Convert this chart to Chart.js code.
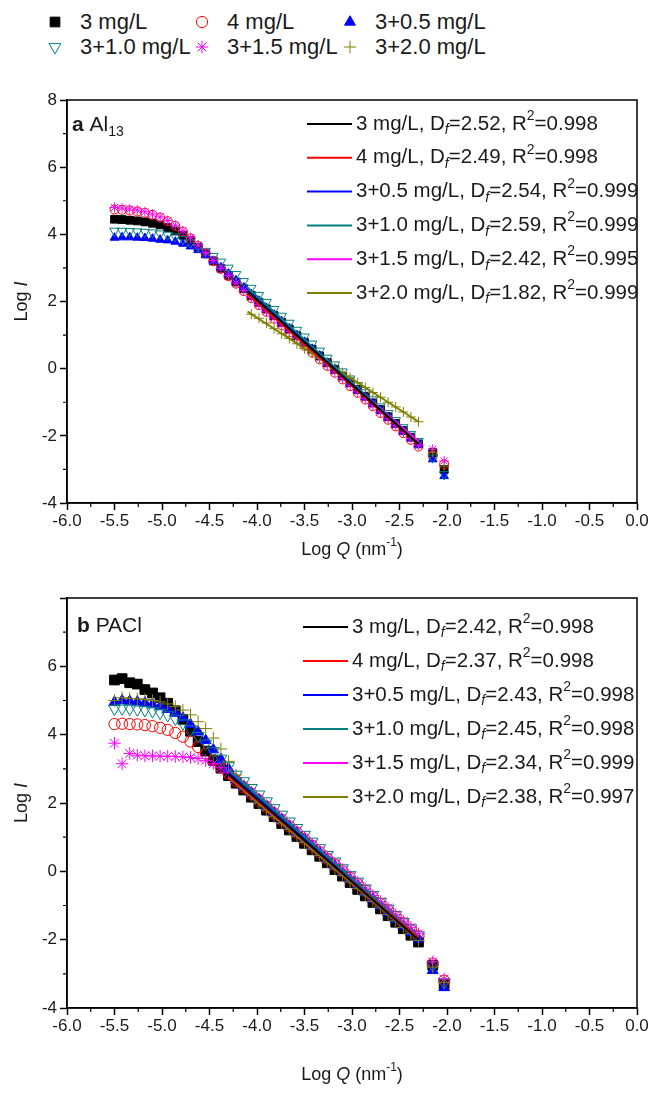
<!DOCTYPE html>
<html>
<head>
<meta charset="utf-8">
<script src="https://cdn.jsdelivr.net/npm/chart.js@4.4.0/dist/chart.umd.min.js"></script>
<style>
  html, body { margin: 0; padding: 0; background: #fff; }
  body { width: 652px; height: 1093px; position: relative; overflow: hidden;
         font-family: "Liberation Sans", Arial, sans-serif; color: #1a1a1a; }
  .leg { position: absolute; font-size: 22px; white-space: nowrap; line-height: 24px; }
  .mk { position: absolute; }
  #chartA { position: absolute; left: 0; top: 70px; }
  #chartB { position: absolute; left: 0; top: 580px; }
</style>
</head>
<body>
<div id="legend"></div>
<canvas id="chartA" width="652" height="510"></canvas>
<canvas id="chartB" width="652" height="513"></canvas>
<script>
// series (same for both panels)
const seriesNames = ['3 mg/L', '4 mg/L', '3+0.5 mg/L', '3+1.0 mg/L', '3+1.5 mg/L', '3+2.0 mg/L'];
const seriesColors = ['#000000', '#ff0000', '#0000ff', '#008080', '#ff00ff', '#808000'];

// Log Q values of the measured points
const logQ = [-5.50, -5.42, -5.34, -5.26, -5.18, -5.10, -5.02, -4.94, -4.86, -4.78, -4.70,
  -4.62, -4.54, -4.46, -4.38, -4.30, -4.22, -4.14, -4.06, -3.98, -3.90, -3.82, -3.74,
  -3.66, -3.58, -3.50, -3.42, -3.34, -3.26, -3.18, -3.10, -3.02, -2.94, -2.86, -2.78,
  -2.70, -2.62, -2.54, -2.46, -2.38, -2.30, -2.15, -2.03];

// panel a - Al13, Log I
const al13_3 = [4.45, 4.44, 4.42, 4.40, 4.37, 4.33, 4.28, 4.20, 4.10, 3.97, 3.81, 3.62, 3.42, 3.21, 2.99, 2.78, 2.58, 2.38, 2.18, 1.98, 1.78, 1.58, 1.38, 1.18, 0.98, 0.78, 0.58, 0.38, 0.18, -0.02, -0.22, -0.42, -0.62, -0.82, -1.02, -1.22, -1.43, -1.63, -1.84, -2.04, -2.24, -2.50, -3.00];
const al13_4 = [4.74, 4.73, 4.71, 4.68, 4.64, 4.58, 4.50, 4.39, 4.25, 4.08, 3.88, 3.66, 3.43, 3.20, 2.97, 2.75, 2.53, 2.31, 2.10, 1.89, 1.69, 1.49, 1.29, 1.08, 0.88, 0.68, 0.48, 0.28, 0.08, -0.12, -0.32, -0.52, -0.72, -0.92, -1.12, -1.32, -1.52, -1.72, -1.92, -2.12, -2.32, -2.60, -2.85];
const al13_05 = [3.90, 3.91, 3.91, 3.90, 3.89, 3.87, 3.84, 3.82, 3.78, 3.72, 3.64, 3.53, 3.38, 3.20, 3.02, 2.83, 2.63, 2.42, 2.22, 2.02, 1.81, 1.61, 1.41, 1.20, 1.00, 0.80, 0.59, 0.39, 0.18, -0.02, -0.22, -0.43, -0.63, -0.84, -1.04, -1.24, -1.44, -1.65, -1.86, -2.06, -2.26, -2.70, -3.20];
const al13_10 = [4.10, 4.10, 4.09, 4.08, 4.07, 4.05, 4.02, 3.98, 3.93, 3.85, 3.75, 3.63, 3.50, 3.35, 3.18, 3.00, 2.81, 2.60, 2.40, 2.19, 1.98, 1.77, 1.57, 1.36, 1.15, 0.95, 0.74, 0.53, 0.32, 0.12, -0.09, -0.30, -0.50, -0.71, -0.92, -1.13, -1.33, -1.54, -1.75, -1.95, -2.16, -2.65, -3.15];
const al13_15 = [4.80, 4.78, 4.75, 4.72, 4.67, 4.60, 4.52, 4.41, 4.27, 4.10, 3.90, 3.68, 3.45, 3.22, 2.99, 2.77, 2.55, 2.33, 2.12, 1.91, 1.71, 1.51, 1.31, 1.11, 0.91, 0.71, 0.51, 0.31, 0.11, -0.09, -0.29, -0.49, -0.69, -0.89, -1.09, -1.29, -1.49, -1.69, -1.89, -2.08, -2.27, -2.40, -2.75];
const al13_20 = [null, null, null, null, null, null, null, null, null, null, null, null, null, null, null, null, null, null, 1.62, 1.50, 1.36, 1.19, 1.04, 0.90, 0.74, 0.60, 0.46, 0.31, 0.17, 0.02, -0.12, -0.27, -0.42, -0.56, -0.71, -0.85, -1.00, -1.14, -1.29, -1.44, -1.58, -2.50, -2.90];
const al13FitX = [-4.1, -2.3];
const al13FitY = [[2.30, -2.24], [2.22, -2.26], [2.32, -2.25], [2.42, -2.24], [2.20, -2.16], [1.70, -1.58]];
const al13Df = [2.52, 2.49, 2.54, 2.59, 2.42, 1.82];
const al13R2 = [0.998, 0.998, 0.999, 0.999, 0.995, 0.999];

// panel b - PACl, Log I
const pacl_3 = [5.60, 5.64, 5.52, 5.48, 5.32, 5.22, 5.08, 4.92, 4.70, 4.45, 4.10, 3.80, 3.52, 3.25, 3.02, 2.80, 2.58, 2.38, 2.17, 1.98, 1.79, 1.60, 1.40, 1.21, 1.02, 0.82, 0.63, 0.44, 0.25, 0.05, -0.14, -0.33, -0.53, -0.72, -0.91, -1.10, -1.30, -1.49, -1.68, -1.87, -2.07, -2.75, -3.30];
const pacl_4 = [4.31, 4.32, 4.31, 4.30, 4.28, 4.25, 4.20, 4.14, 4.05, 3.94, 3.80, 3.64, 3.45, 3.25, 3.05, 2.86, 2.65, 2.46, 2.27, 2.08, 1.89, 1.70, 1.51, 1.32, 1.13, 0.94, 0.75, 0.56, 0.37, 0.19, 0.00, -0.19, -0.38, -0.57, -0.76, -0.95, -1.14, -1.33, -1.52, -1.71, -1.90, -2.70, -3.20];
const pacl_05 = [4.95, 5.00, 4.98, 4.96, 4.93, 4.88, 4.82, 4.74, 4.63, 4.49, 4.30, 4.08, 3.83, 3.56, 3.28, 3.00, 2.69, 2.49, 2.30, 2.10, 1.91, 1.71, 1.52, 1.32, 1.13, 0.94, 0.74, 0.55, 0.35, 0.16, -0.04, -0.23, -0.42, -0.62, -0.81, -1.01, -1.20, -1.40, -1.59, -1.79, -1.98, -2.90, -3.40];
const pacl_10 = [4.76, 4.77, 4.76, 4.74, 4.72, 4.69, 4.64, 4.57, 4.47, 4.33, 4.16, 3.96, 3.74, 3.52, 3.30, 3.08, 2.83, 2.64, 2.44, 2.25, 2.05, 1.85, 1.66, 1.46, 1.27, 1.07, 0.87, 0.68, 0.48, 0.29, 0.09, -0.11, -0.30, -0.50, -0.69, -0.89, -1.09, -1.28, -1.48, -1.67, -1.87, -2.75, -3.25];
const pacl_15 = [3.75, 3.15, 3.45, 3.40, 3.38, 3.38, 3.37, 3.37, 3.36, 3.35, 3.33, 3.30, 3.24, 3.15, 3.03, 2.88, 2.70, 2.50, 2.30, 2.10, 1.91, 1.73, 1.54, 1.35, 1.17, 0.98, 0.79, 0.60, 0.42, 0.23, 0.04, -0.15, -0.33, -0.52, -0.71, -0.89, -1.08, -1.27, -1.46, -1.64, -1.83, -2.65, -3.15];
const pacl_20 = [5.00, 5.08, 5.06, 5.05, 5.03, 5.00, 4.96, 4.90, 4.82, 4.72, 4.58, 4.38, 4.18, 3.90, 3.58, 3.22, 2.82, 2.50, 2.24, 2.00, 1.79, 1.60, 1.41, 1.22, 1.03, 0.84, 0.65, 0.46, 0.27, 0.07, -0.12, -0.31, -0.50, -0.69, -0.88, -1.07, -1.26, -1.45, -1.64, -1.83, -2.02, -2.80, -3.25];
const paclFitX = [-4.3, -2.3];
const paclFitY = [[2.84, -2.00], [2.79, -1.95], [2.88, -1.98], [2.97, -1.93], [2.78, -1.90], [2.74, -2.02]];
const paclDf = [2.42, 2.37, 2.43, 2.45, 2.34, 2.38];
const paclR2 = [0.998, 0.998, 0.998, 0.998, 0.999, 0.997];

// axis ticks
const xTicks = { min: -6, max: 0, step: 0.5 };
const yTicks = { min: -4, max: 8, step: 2 };

// marker looks
const markers = [
  { style: 'rect', rot: 0, fill: true, r: 5.5 },
  { style: 'circle', rot: 0, fill: false, r: 4.5 },
  { style: 'triangle', rot: 0, fill: true, r: 5 },
  { style: 'triangle', rot: 180, fill: false, r: 5.5 },
  { style: 'star', rot: 0, fill: false, r: 5 },
  { style: 'cross', rot: 0, fill: false, r: 5 }
];
const FONT = '"Liberation Sans", Arial, sans-serif';
const TEXT = '#1a1a1a';

// top legend (html)
const legendSpots = [[55, 22], [202, 22], [350, 22], [55, 47], [202, 47], [350, 47]];
const legendBox = document.getElementById('legend');
seriesNames.forEach((name, i) => {
  const [mx, my] = legendSpots[i];
  const c = document.createElement('canvas');
  c.width = 20; c.height = 20; c.className = 'mk';
  c.style.left = (mx - 10) + 'px'; c.style.top = (my - 10) + 'px';
  legendBox.appendChild(c);
  const g = c.getContext('2d'), m = markers[i];
  g.strokeStyle = seriesColors[i];
  g.fillStyle = m.fill ? seriesColors[i] : 'rgba(0,0,0,0)';
  g.lineWidth = 1;
  Chart.helpers.drawPoint(g, { pointStyle: m.style, rotation: m.rot, radius: m.r * 1.25, borderWidth: 1 }, 10, 10);
  const t = document.createElement('div');
  t.className = 'leg';
  t.textContent = name;
  t.style.left = (mx + 25) + 'px'; t.style.top = (my - 12) + 'px';
  legendBox.appendChild(t);
});

// text helpers (sub/superscripts)
function setFont(ctx, kind, size) {
  let fs = size, style = '';
  if (kind === 'sub' || kind === 'isub' || kind === 'sup') fs = Math.round(size * 0.68);
  if (kind === 'i' || kind === 'isub') style = 'italic ';
  if (kind === 'b') style = 'bold ';
  ctx.font = style + fs + 'px ' + FONT;
}
function shiftFor(kind, size) {
  if (kind === 'sub' || kind === 'isub') return size * 0.32;
  if (kind === 'sup') return -size * 0.38;
  return 0;
}
function measureRich(ctx, parts, size) {
  let w = 0;
  parts.forEach(([t, k]) => { setFont(ctx, k, size); w += ctx.measureText(t).width; });
  return w;
}
function drawRich(ctx, parts, x, y, size) {
  let cx = x;
  parts.forEach(([t, k]) => {
    setFont(ctx, k, size);
    ctx.fillText(t, cx, y + shiftFor(k, size));
    cx += ctx.measureText(t).width;
  });
}

const framePlugin = {
  id: 'frame',
  afterDraw(chart) {
    const { ctx, chartArea: a } = chart;
    const x = chart.scales.x, y = chart.scales.y;
    ctx.save();
    ctx.strokeStyle = '#000';
    ctx.lineWidth = 1.5;
    ctx.strokeRect(a.left, a.top, a.right - a.left, a.bottom - a.top);
    // minor ticks
    ctx.lineWidth = 1.2;
    ctx.beginPath();
    for (let v = xTicks.min + xTicks.step / 2; v < xTicks.max; v += xTicks.step) {
      const px = x.getPixelForValue(v);
      ctx.moveTo(px, a.bottom); ctx.lineTo(px, a.bottom + 4);
    }
    for (let v = yTicks.min + yTicks.step / 2; v < yTicks.max; v += yTicks.step) {
      const py = y.getPixelForValue(v);
      ctx.moveTo(a.left, py); ctx.lineTo(a.left - 4, py);
    }
    ctx.stroke();
    ctx.restore();
  }
};

function textPlugin(cfg) {
  return {
    id: 'panelText',
    afterDraw(chart) {
      const ctx = chart.ctx, a = chart.chartArea;
      ctx.save();
      ctx.fillStyle = TEXT;
      ctx.textBaseline = 'middle';
      ctx.textAlign = 'left';
      drawRich(ctx, cfg.label, cfg.labelX, a.top + cfg.labelDy, 21);
      // fit legend
      seriesNames.forEach((name, i) => {
        const yy = a.top + cfg.legDy0 + i * cfg.legStep;
        ctx.strokeStyle = seriesColors[i];
        ctx.lineWidth = 2;
        ctx.beginPath(); ctx.moveTo(cfg.legX0, yy); ctx.lineTo(cfg.legX1, yy); ctx.stroke();
        const parts = [[name + ', D', ''], ['f', 'isub'], ['=' + cfg.df[i].toFixed(2) + ', R', ''],
                       ['2', 'sup'], ['=' + cfg.r2[i].toFixed(3), '']];
        drawRich(ctx, parts, cfg.legX1 + 4, yy, 20.5);
      });
      // axis titles
      const xt = [['Log ', ''], ['Q', 'i'], [' (nm', ''], ['-1', 'sup'], [')', '']];
      const wx = measureRich(ctx, xt, 18);
      drawRich(ctx, xt, (a.left + a.right) / 2 - wx / 2, cfg.xTitleY, 18);
      const yt = [['Log ', ''], ['I', 'i']];
      const wy = measureRich(ctx, yt, 18);
      ctx.translate(22, (a.top + a.bottom) / 2);
      ctx.rotate(-Math.PI / 2);
      drawRich(ctx, yt, -wy / 2, 0, 18);
      ctx.restore();
    }
  };
}

function buildDatasets(series, fitX, fitY, scale) {
  const ds = [];
  seriesNames.forEach((name, i) => {
    ds.push({
      label: name + ' fit',
      data: fitX.map((x, k) => ({ x: x, y: fitY[i][k] })),
      showLine: true, borderColor: seriesColors[i], borderWidth: 2,
      pointRadius: 0, order: 0
    });
  });
  seriesNames.forEach((name, i) => {
    const m = markers[i];
    ds.push({
      label: name,
      data: logQ.map((x, k) => ({ x: x, y: series[i][k] })).filter(p => p.y !== null),
      showLine: false,
      pointStyle: m.style, pointRotation: m.rot, pointRadius: m.r * scale,
      borderColor: seriesColors[i], borderWidth: 1,
      backgroundColor: m.fill ? seriesColors[i] : 'rgba(0,0,0,0)',
      order: 6 - i
    });
  });
  return ds;
}

function makeChart(id, datasets, cfg) {
  const tickFont = { family: FONT, size: 17 };
  const grid = { drawOnChartArea: false, drawTicks: true, tickLength: 7, tickWidth: 1.5, tickColor: '#000' };
  const border = { display: true, color: '#000', width: 1.5 };
  return new Chart(document.getElementById(id), {
    type: 'scatter',
    data: { datasets: datasets },
    options: {
      responsive: false, animation: false, devicePixelRatio: 1,
      layout: { padding: { top: cfg.padTop, right: 15, left: 0, bottom: 0 } },
      plugins: { legend: { display: false }, tooltip: { enabled: false } },
      scales: {
        x: {
          type: 'linear', min: xTicks.min, max: xTicks.max,
          afterFit: s => { s.height = cfg.xAxisH; },
          ticks: { stepSize: xTicks.step, callback: v => v.toFixed(1), font: tickFont, color: TEXT,
                   padding: 1, maxRotation: 0, autoSkip: false },
          grid: grid, border: border
        },
        y: {
          type: 'linear', min: yTicks.min, max: yTicks.max,
          afterFit: s => { s.width = 67; },
          ticks: { stepSize: yTicks.step, callback: cfg.yLabel, font: tickFont, color: TEXT, padding: 3 },
          grid: grid, border: border
        }
      }
    },
    plugins: [framePlugin, textPlugin(cfg)]
  });
}

makeChart('chartA',
  buildDatasets([al13_3, al13_4, al13_05, al13_10, al13_15, al13_20], al13FitX, al13FitY, 1),
  { padTop: 30, xAxisH: 77, xTitleY: 480,
    label: [['a', 'b'], [' Al', ''], ['13', 'sub']], labelX: 72, labelDy: 25,
    legX0: 307, legX1: 352, legDy0: 24, legStep: 33.8,
    df: al13Df, r2: al13R2, yLabel: v => String(v) });

makeChart('chartB',
  buildDatasets([pacl_3, pacl_4, pacl_05, pacl_10, pacl_15, pacl_20], paclFitX, paclFitY, 1.25),
  { padTop: 18, xAxisH: 85, xTitleY: 495,
    label: [['b', 'b'], [' PACl', '']], labelX: 77, labelDy: 28,
    legX0: 303, legX1: 348, legDy0: 29, legStep: 34,
    df: paclDf, r2: paclR2, yLabel: v => (v === yTicks.max ? '' : String(v)) });
</script>
</body>
</html>
